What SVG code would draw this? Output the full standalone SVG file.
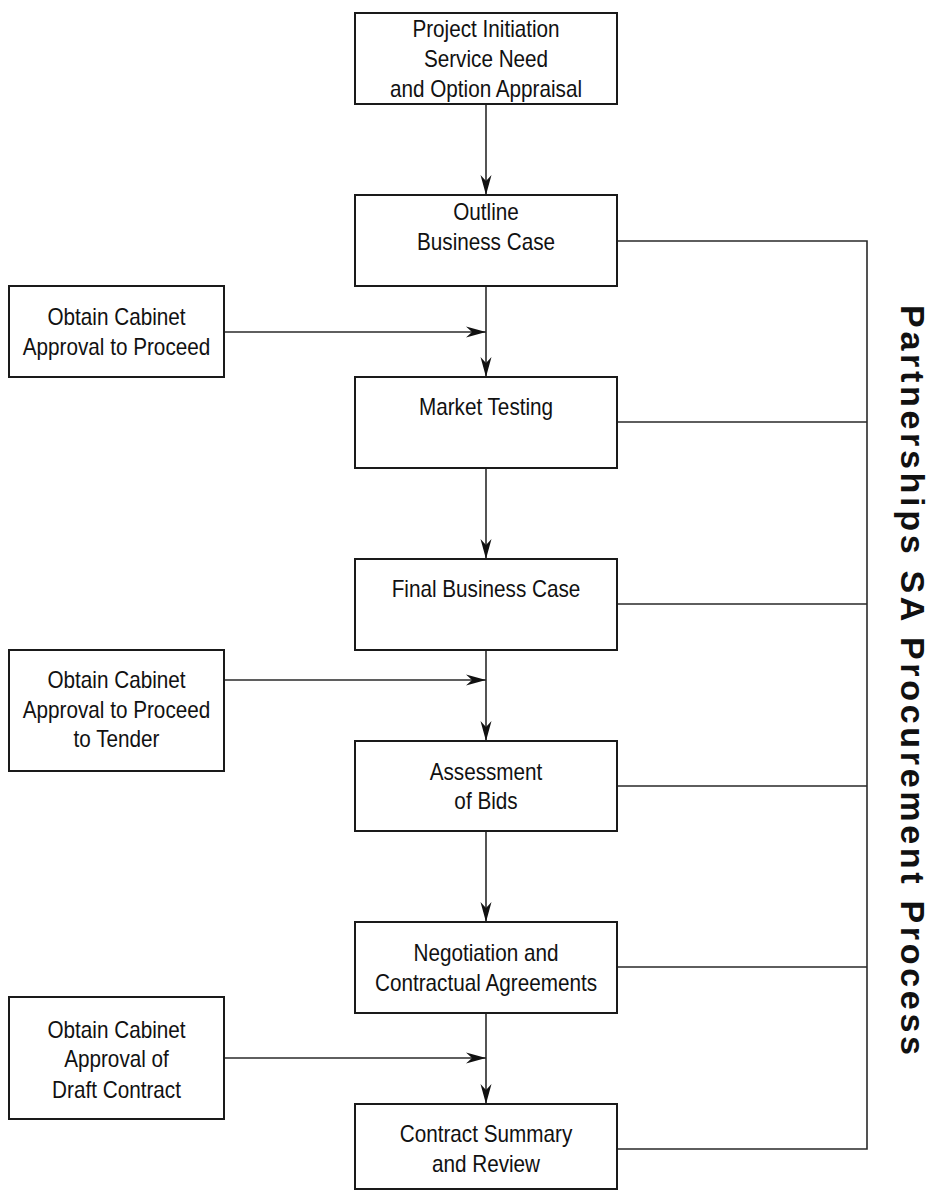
<svg xmlns="http://www.w3.org/2000/svg" width="941" height="1191" viewBox="0 0 941 1191">
<style>
.box{fill:#fff;stroke:#1a1a1a;stroke-width:2}
.lbl{font-family:"Liberation Sans",Arial,sans-serif;font-size:23px;fill:#111;text-anchor:middle}
.con{fill:none;stroke:#2a2a2a;stroke-width:1.6}
.title{font-family:"Liberation Sans",Arial,sans-serif;font-size:34px;font-weight:bold;fill:#111;text-anchor:middle}
</style>
<defs>
<marker id="ah" markerUnits="userSpaceOnUse" viewBox="-21 -6 22 12" refX="0" refY="0" markerWidth="22" markerHeight="12" orient="auto">
<path d="M0,0 L-20,-5.5 L-14,0 L-20,5.5 Z" fill="#111"/>
</marker>
</defs>
<rect width="941" height="1191" fill="#fff"/>
<g id="connectors">
<line class="con" x1="486" y1="104" x2="486" y2="195" marker-end="url(#ah)"/>
<line class="con" x1="486" y1="286" x2="486" y2="377" marker-end="url(#ah)"/>
<line class="con" x1="486" y1="468" x2="486" y2="559" marker-end="url(#ah)"/>
<line class="con" x1="486" y1="650" x2="486" y2="741" marker-end="url(#ah)"/>
<line class="con" x1="486" y1="831" x2="486" y2="922" marker-end="url(#ah)"/>
<line class="con" x1="486" y1="1013" x2="486" y2="1104" marker-end="url(#ah)"/>
<line class="con" x1="224" y1="332" x2="486" y2="332" marker-end="url(#ah)"/>
<line class="con" x1="224" y1="680" x2="486" y2="680" marker-end="url(#ah)"/>
<line class="con" x1="224" y1="1058" x2="486" y2="1058" marker-end="url(#ah)"/>
<path class="con" d="M617,241 H867 V1149 H617 M617,422 H867 M617,604 H867 M617,786 H867 M617,967 H867"/>
</g>
<g id="n1"><rect class="box" x="355" y="13" width="262" height="91"/>
<text class="lbl" transform="translate(486,37) scale(0.9,1)">Project Initiation</text>
<text class="lbl" transform="translate(486,67) scale(0.9,1)">Service Need</text>
<text class="lbl" transform="translate(486,97) scale(0.9,1)">and Option Appraisal</text></g>
<g id="n2"><rect class="box" x="355" y="195" width="262" height="91"/>
<text class="lbl" transform="translate(486,220) scale(0.9,1)">Outline</text>
<text class="lbl" transform="translate(486,249.5) scale(0.9,1)">Business Case</text></g>
<g id="n3"><rect class="box" x="355" y="377" width="262" height="91"/>
<text class="lbl" transform="translate(486,415) scale(0.9,1)">Market Testing</text></g>
<g id="n4"><rect class="box" x="355" y="559" width="262" height="91"/>
<text class="lbl" transform="translate(486,597) scale(0.9,1)">Final Business Case</text></g>
<g id="n5"><rect class="box" x="355" y="741" width="262" height="90"/>
<text class="lbl" transform="translate(486,780) scale(0.9,1)">Assessment</text>
<text class="lbl" transform="translate(486,809) scale(0.9,1)">of Bids</text></g>
<g id="n6"><rect class="box" x="355" y="922" width="262" height="91"/>
<text class="lbl" transform="translate(486,961) scale(0.9,1)">Negotiation and</text>
<text class="lbl" transform="translate(486,991) scale(0.9,1)">Contractual Agreements</text></g>
<g id="n7"><rect class="box" x="355" y="1104" width="262" height="85"/>
<text class="lbl" transform="translate(486,1142) scale(0.9,1)">Contract Summary</text>
<text class="lbl" transform="translate(486,1172) scale(0.9,1)">and Review</text></g>
<g id="a1"><rect class="box" x="9" y="286" width="215" height="91"/>
<text class="lbl" transform="translate(116.5,325) scale(0.9,1)">Obtain Cabinet</text>
<text class="lbl" transform="translate(116.5,355) scale(0.9,1)">Approval to Proceed</text></g>
<g id="a2"><rect class="box" x="9" y="650" width="215" height="121"/>
<text class="lbl" transform="translate(116.5,688) scale(0.9,1)">Obtain Cabinet</text>
<text class="lbl" transform="translate(116.5,718) scale(0.9,1)">Approval to Proceed</text>
<text class="lbl" transform="translate(116.5,747) scale(0.9,1)">to Tender</text></g>
<g id="a3"><rect class="box" x="9" y="997" width="215" height="122"/>
<text class="lbl" transform="translate(116.5,1038) scale(0.9,1)">Obtain Cabinet</text>
<text class="lbl" transform="translate(116.5,1067) scale(0.9,1)">Approval of</text>
<text class="lbl" transform="translate(116.5,1098) scale(0.9,1)">Draft Contract</text></g>
<g id="title">
<text class="title" transform="translate(901,680) rotate(90)" textLength="750" lengthAdjust="spacing">Partnerships SA Procurement Process</text>
</g>
</svg>
